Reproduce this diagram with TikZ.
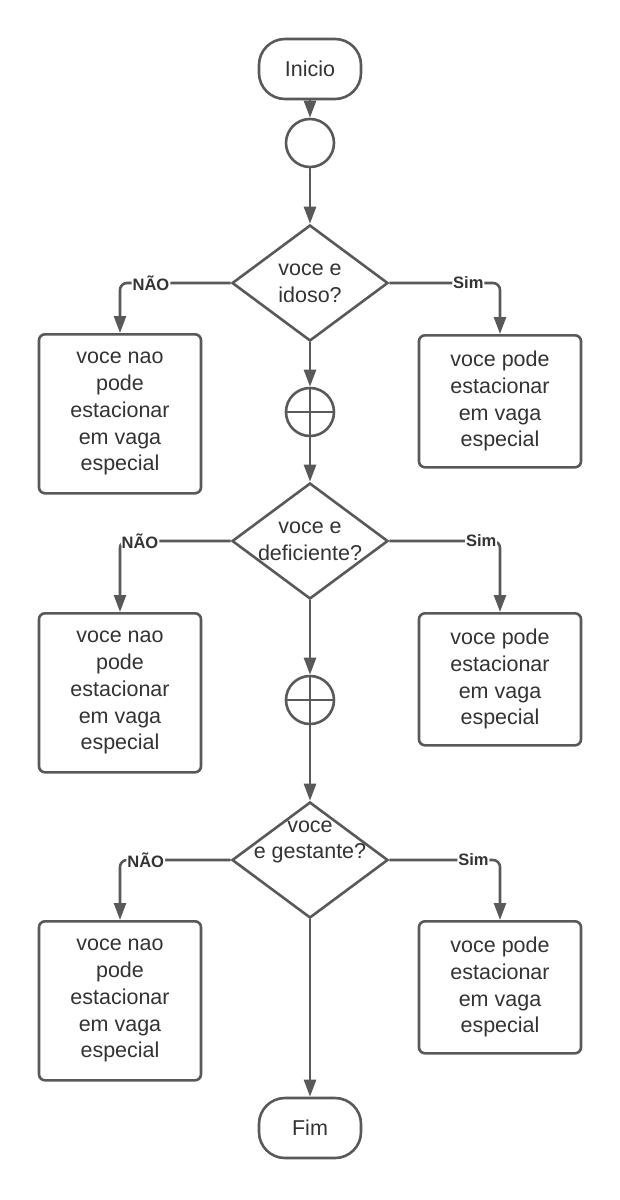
\documentclass[tikz,border=0pt]{standalone}
\usepackage{fontspec}
\setmainfont{Liberation Sans}
\usetikzlibrary{shapes.geometric,arrows.meta}
\definecolor{linegray}{RGB}{89,89,89}
\definecolor{textgray}{RGB}{51,51,51}
\begin{document}
\begin{tikzpicture}[x=1pt, y=-1pt,
    >={Triangle[length=17pt,width=12pt]},
    line width=2.6pt,
    every node/.style={text=textgray, font=\fontsize{21.5}{26.7}\selectfont},
    terminal/.style={draw=linegray, rounded corners=26pt, minimum width=102pt, minimum height=60pt, inner sep=0pt},
    junction/.style={draw=linegray, circle, minimum size=48pt, inner sep=0pt},
    decision/.style={draw=linegray, diamond, minimum width=156pt, minimum height=116pt, inner sep=0pt},
    qtext/.style={align=center, inner sep=0pt},
    nobox/.style={draw=linegray, rounded corners=6pt, minimum width=162pt, minimum height=159pt, align=center, inner sep=0pt},
    yesbox/.style={nobox, minimum height=132pt},
    flow/.style={->, draw=linegray},
    branch/.style={flow, rounded corners=7pt},
    answer/.style={fill=white, inner sep=1pt, font=\fontsize{16.5}{18}\bfseries\selectfont}
]
    \useasboundingbox (0,0) rectangle (620,1200);

    % Start
    \node[terminal] (inicio) at (310,69) {Inicio};
    \node[junction] (c0) at (310,143) {};

    % First question
    \node[decision] (q1) at (310,283) {};
    \node[qtext] (q1t) at (q1) {voce e\\idoso?};
    \node[nobox, anchor=north] (n1) at (120,333) {voce nao\\pode\\estacionar\\em vaga\\especial};
    \node[yesbox, anchor=north] (s1) at (500,334) {voce pode\\estacionar\\em vaga\\especial};
    \node[junction] (p1) at (310,412) {};

    % Second question
    \node[decision] (q2) at (310,541) {};
    \node[qtext] (q2t) at (q2) {voce e\\deficiente?};
    \node[nobox, anchor=north] (n2) at (120,612) {voce nao\\pode\\estacionar\\em vaga\\especial};
    \node[yesbox, anchor=north] (s2) at (500,612) {voce pode\\estacionar\\em vaga\\especial};
    \node[junction] (p2) at (310,700) {};

    % Third question
    \node[decision] (q3) at (310,860) {};
    \node[qtext] (q3t) at (310,842) {voce\\e gestante?};
    \node[nobox, anchor=north] (n3) at (120,920) {voce nao\\pode\\estacionar\\em vaga\\especial};
    \node[yesbox, anchor=north] (s3) at (500,920) {voce pode\\estacionar\\em vaga\\especial};

    % End
    \node[terminal] (fim) at (310,1128) {Fim};

    % Main line
    \draw[flow] (inicio) -- (c0);
    \draw[flow] (c0) -- (q1);
    \draw[flow] (q1) -- (p1);
    \draw[flow] (p1) -- (q2);
    \draw[flow] (q2) -- (p2);
    \draw[flow] (p2) -- (q3);
    \draw[flow] (q3) -- (fim);

    % Crosses in the junctions
    \draw[linegray] (p1.north) -- (p1.south) (p1.west) -- (p1.east);
    \draw[linegray] (p2.north) -- (p2.south) (p2.west) -- (p2.east);

    % Branches
    \draw[branch] (q1.west) -| node[answer, pos=0.36] {NÃO} (n1.north);
    \draw[branch] (q1.east) -| node[answer, pos=0.357] {Sim} (s1.north);
    \draw[branch] (q2.west) -| node[answer, pos=0.41] {NÃO} (n2.north);
    \draw[branch] (q2.east) -| node[answer, pos=0.415] {Sim} (s2.north);
    \draw[branch] (q3.west) -| node[answer, pos=0.384] {NÃO} (n3.north);
    \draw[branch] (q3.east) -| node[answer, pos=0.38] {Sim} (s3.north);
\end{tikzpicture}
\end{document}
